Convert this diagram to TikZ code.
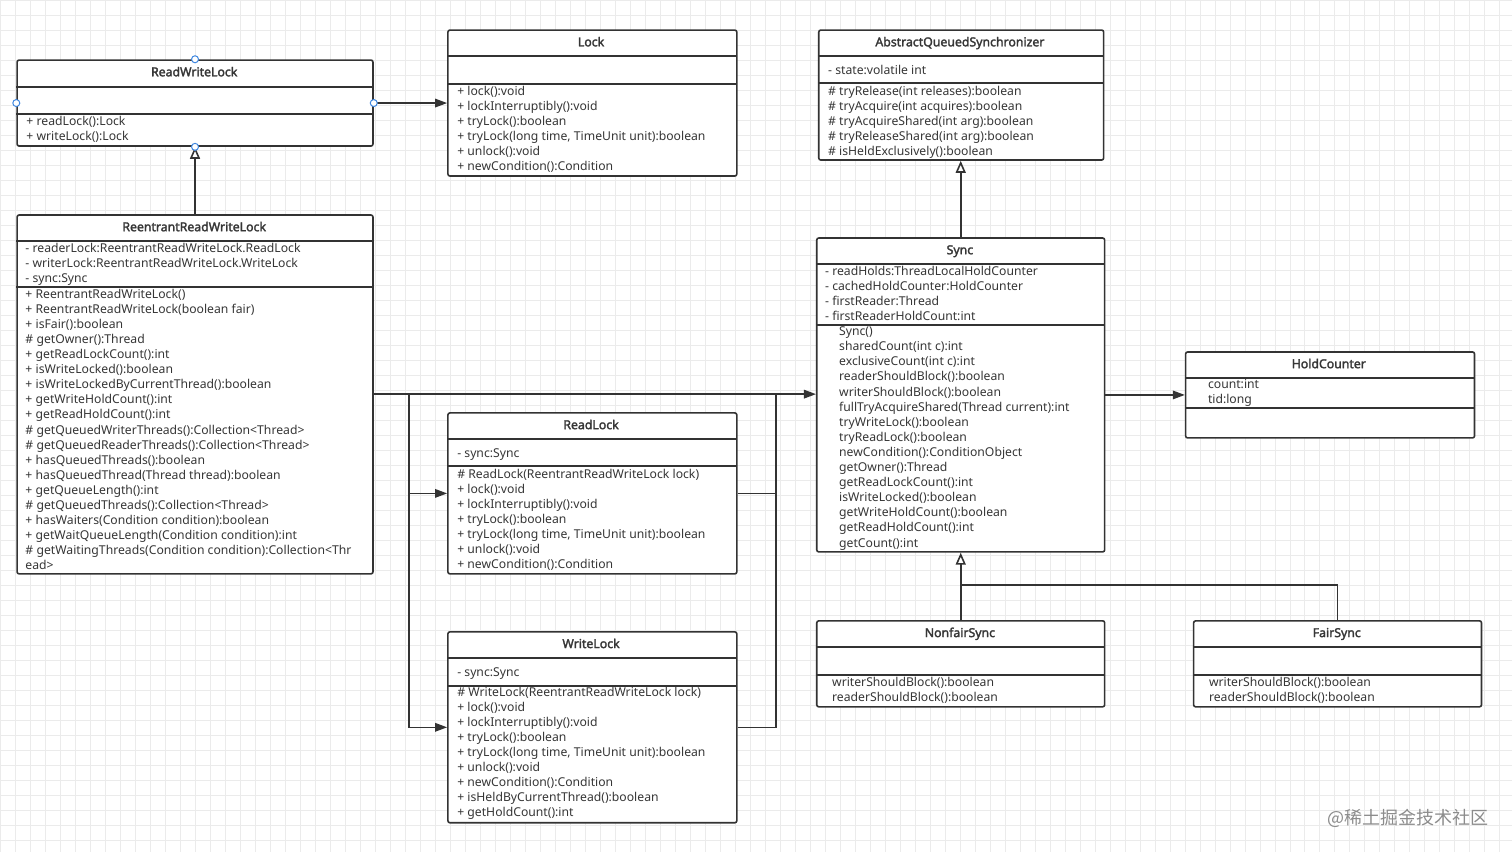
\documentclass[tikz,border=0pt]{standalone}
\usepackage{fontspec}
\setmainfont{Noto Sans}[AutoFakeBold=2.2]
\newfontfamily\cjk{Noto Sans CJK SC}
\usetikzlibrary{arrows.meta, positioning}

\definecolor{linec}{HTML}{333333}
\definecolor{txtc}{HTML}{363636}
\definecolor{handle}{HTML}{3D86E0}
\definecolor{gridc}{HTML}{EBEBEB}

\begin{document}
\begin{tikzpicture}[
        x=1pt, y=-1pt,
        >=Stealth,
        cls/.style={draw=linec, line width=1.6pt, rounded corners=2pt, fill=white,
            anchor=north west, inner sep=0pt},
        ttl/.style={font=\bfseries\fontsize{12.3}{14}\selectfont, text=txtc,
            text height=8.5pt, text depth=2.5pt, inner sep=0pt},
        txt/.style={font=\fontsize{12.2}{15.1}\selectfont, text=txtc, align=left,
            anchor=north west, inner sep=0pt,
            execute at begin node={\rule{0pt}{9.5pt}}},
        dv/.style={draw=linec, line width=1.6pt},
        e/.style={draw=linec, line width=1.6pt, -{Triangle[length=12pt, width=8.5pt]}},
        inh/.style={draw=linec, line width=1.6pt, -{Triangle[open, length=12pt, width=10pt, fill=white]}},
        ln/.style={draw=linec, line width=1.6pt},
        hd/.style={circle, draw=handle, fill=white, minimum size=7pt, inner sep=0pt, line width=1pt}
    ]
    % background grid
    \fill[white] (0,0) rectangle (1512,852);
    \foreach \g in {0,15,...,1512} \draw[gridc, line width=0.6pt] (\g,0) -- (\g,852);
    \foreach \g in {0,15,...,852} \draw[gridc, line width=0.6pt] (0,\g) -- (1512,\g);
    \useasboundingbox (0,0) rectangle (1512,852);

    % ReadWriteLock
    \node[cls, minimum width=356pt, minimum height=86pt] (rwl) at (16,59) {};
    \draw[dv] (16,87) -- (372,87);
    \draw[dv] (16,114) -- (372,114);
    \node[ttl] (rwlT) at (194,73) {ReadWriteLock};
    \node[txt] (rwlM) at (26,115.5) {+ readLock():Lock\\+ writeLock():Lock};

    % Lock
    \node[cls, minimum width=289pt, minimum height=146pt] (lock) at (447,29) {};
    \draw[dv] (447,56) -- (736,56);
    \draw[dv] (447,84) -- (736,84);
    \node[ttl] (lockT) at (591,43) {Lock};
    \node[txt] (lockM) at (457,85.5) {+ lock():void\\+ lockInterruptibly():void\\+ tryLock():boolean\\
        + tryLock(long time, TimeUnit unit):boolean\\+ unlock():void\\+ newCondition():Condition};

    % AbstractQueuedSynchronizer
    \node[cls, minimum width=285pt, minimum height=130pt] (aqs) at (818,29) {};
    \draw[dv] (818,56) -- (1103,56);
    \draw[dv] (818,83) -- (1103,83);
    \node[ttl] (aqsT) at (960,43) {AbstractQueuedSynchronizer};
    \node[txt] (aqsA) at (828,64.5) {- state:volatile int};
    \node[txt] (aqsM) at (828,85.5) {\# tryRelease(int releases):boolean\\\# tryAcquire(int acquires):boolean\\
        \# tryAcquireShared(int arg):boolean\\\# tryReleaseShared(int arg):boolean\\
        \# isHeldExclusively():boolean};

    % ReentrantReadWriteLock
    \node[cls, minimum width=356pt, minimum height=359pt] (rrwl) at (16,214) {};
    \draw[dv] (16,241) -- (372,241);
    \draw[dv] (16,287) -- (372,287);
    \node[ttl] (rrwlT) at (194,228) {ReentrantReadWriteLock};
    \node[txt] (rrwlA) at (25,242.5) {- readerLock:ReentrantReadWriteLock.ReadLock\\
        - writerLock:ReentrantReadWriteLock.WriteLock\\- sync:Sync};
    \node[txt] (rrwlM) at (25,288.5) {+ ReentrantReadWriteLock()\\+ ReentrantReadWriteLock(boolean fair)\\
        + isFair():boolean\\\# getOwner():Thread\\+ getReadLockCount():int\\+ isWriteLocked():boolean\\
        + isWriteLockedByCurrentThread():boolean\\+ getWriteHoldCount():int\\+ getReadHoldCount():int\\
        \# getQueuedWriterThreads():Collection<Thread>\\\# getQueuedReaderThreads():Collection<Thread>\\
        + hasQueuedThreads():boolean\\+ hasQueuedThread(Thread thread):boolean\\+ getQueueLength():int\\
        \# getQueuedThreads():Collection<Thread>\\+ hasWaiters(Condition condition):boolean\\
        + getWaitQueueLength(Condition condition):int\\
        \# getWaitingThreads(Condition condition):Collection<Thr\\ead>};

    % Sync
    \node[cls, minimum width=288pt, minimum height=314pt] (sync) at (816,237) {};
    \draw[dv] (816,264) -- (1104,264);
    \draw[dv] (816,325) -- (1104,325);
    \node[ttl] (syncT) at (960,251) {Sync};
    \node[txt] (syncA) at (825,265.5) {- readHolds:ThreadLocalHoldCounter\\- cachedHoldCounter:HoldCounter\\
        - firstReader:Thread\\- firstReaderHoldCount:int};
    \node[txt] (syncM) at (839,326.5) {Sync()\\sharedCount(int c):int\\exclusiveCount(int c):int\\
        readerShouldBlock():boolean\\writerShouldBlock():boolean\\fullTryAcquireShared(Thread current):int\\
        tryWriteLock():boolean\\tryReadLock():boolean\\newCondition():ConditionObject\\getOwner():Thread\\
        getReadLockCount():int\\isWriteLocked():boolean\\getWriteHoldCount():boolean\\
        getReadHoldCount():int\\getCount():int};

    % HoldCounter
    \node[cls, minimum width=289pt, minimum height=86pt] (hc) at (1185,351) {};
    \draw[dv] (1185,378) -- (1474,378);
    \draw[dv] (1185,408) -- (1474,408);
    \node[ttl] (hcT) at (1329,365) {HoldCounter};
    \node[txt] (hcA) at (1208,379.5) {count:int\\tid:long};

    % ReadLock
    \node[cls, minimum width=289pt, minimum height=161pt] (rl) at (447,412) {};
    \draw[dv] (447,439) -- (736,439);
    \draw[dv] (447,466) -- (736,466);
    \node[ttl] (rlT) at (591,426) {ReadLock};
    \node[txt] (rlA) at (457,447.5) {- sync:Sync};
    \node[txt] (rlM) at (457,468.5) {\# ReadLock(ReentrantReadWriteLock lock)\\+ lock():void\\
        + lockInterruptibly():void\\+ tryLock():boolean\\+ tryLock(long time, TimeUnit unit):boolean\\
        + unlock():void\\+ newCondition():Condition};

    % WriteLock
    \node[cls, minimum width=289pt, minimum height=191pt] (wl) at (447,631) {};
    \draw[dv] (447,658) -- (736,658);
    \draw[dv] (447,686) -- (736,686);
    \node[ttl] (wlT) at (591,645) {WriteLock};
    \node[txt] (wlA) at (457,666.5) {- sync:Sync};
    \node[txt] (wlM) at (457,686.5) {\# WriteLock(ReentrantReadWriteLock lock)\\+ lock():void\\
        + lockInterruptibly():void\\+ tryLock():boolean\\+ tryLock(long time, TimeUnit unit):boolean\\
        + unlock():void\\+ newCondition():Condition\\+ isHeldByCurrentThread():boolean\\
        + getHoldCount():int};

    % NonfairSync / FairSync
    \node[cls, minimum width=288pt, minimum height=86pt] (nfs) at (816,620) {};
    \draw[dv] (816,647) -- (1104,647);
    \draw[dv] (816,675) -- (1104,675);
    \node[ttl] (nfsT) at (960,634) {NonfairSync};
    \node[txt] (nfsM) at (832,676.5) {writerShouldBlock():boolean\\readerShouldBlock():boolean};

    \node[cls, minimum width=288pt, minimum height=86pt] (fs) at (1193,620) {};
    \draw[dv] (1193,647) -- (1481,647);
    \draw[dv] (1193,675) -- (1481,675);
    \node[ttl] (fsT) at (1337,634) {FairSync};
    \node[txt] (fsM) at (1209,676.5) {writerShouldBlock():boolean\\readerShouldBlock():boolean};

    % connectors
    \coordinate (fork) at (409,394);
    \coordinate (join) at (776,394);
    \coordinate (merge) at (960,585);

    \draw[e] (rwl.east) -- (lock.west |- rwl.east);
    \draw[inh] (rrwl.north) -- (rwl.south);
    \draw[inh] (sync.north) -- (sync.north |- aqs.south);
    \draw[e] (sync.east |- hc.west) -- (hc.west);
    \draw[e] (rrwl.east |- fork) -- (sync.west |- fork);
    \draw[e] (fork) |- (rl.west);
    \draw[e] (fork) |- (wl.west);
    \draw[ln] (rl.east) -| (join);
    \draw[ln] (wl.east) -| (join);
    \draw[inh] (nfs.north) -- (sync.south);
    \draw[ln] (fs.north) |- (merge);

    % selection handles
    \node[hd] (h1) at (rwl.north) {};
    \node[hd] (h2) at (rwl.west) {};
    \node[hd] (h3) at (rwl.east) {};
    \node[hd] (h4) at (rwl.south) {};

    % watermark
    \node[font=\cjk\fontsize{18}{20}\selectfont, text=black!45, inner sep=0pt] (wm) at (1408,818) {@稀土掘金技术社区};
\end{tikzpicture}
\end{document}
